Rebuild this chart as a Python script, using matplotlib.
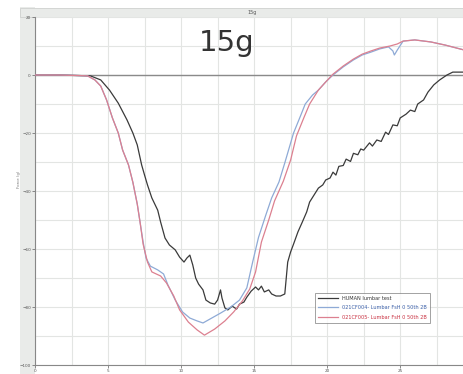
#!/usr/bin/env python3
import numpy as np
import matplotlib
matplotlib.use('Agg')
import matplotlib.pyplot as plt
from matplotlib.patches import Rectangle

# values (x in s, y in g)
human_x = [0, 1.7, 3.1, 3.8, 4.5, 5.1, 5.7, 6.3, 6.7, 7.0, 7.3, 7.5, 7.7, 8.0, 8.4, 8.6,
           8.9, 9.2, 9.6, 9.9, 10.2, 10.4, 10.6, 10.8, 11.0, 11.2, 11.5, 11.7, 12.0, 12.3,
           12.5, 12.7, 12.8, 13.0, 13.2, 13.5, 13.8, 14.0, 14.3, 14.5, 14.8, 15.1, 15.3,
           15.5, 15.7, 16.0, 16.2, 16.5, 16.8, 17.1, 17.2, 17.3, 17.5, 17.7, 18.0, 18.3,
           18.6, 18.8, 19.1, 19.4, 19.7, 19.9, 20.2, 20.4, 20.6, 20.8, 21.1, 21.3, 21.6,
           21.8, 22.1, 22.3, 22.5, 22.9, 23.1, 23.4, 23.7, 24.0, 24.2, 24.5, 24.8, 25.0,
           25.4, 25.7, 26.0, 26.2, 26.6, 26.9, 27.3, 27.7, 28.2, 28.6, 29.4]
human_y = [0, 0, -0.2, -0.3, -1.7, -5.2, -9.7, -15.5, -20.0, -24.1, -31.0, -34.5, -37.9,
           -42.4, -46.6, -50.7, -56.2, -58.6, -60.3, -62.8, -64.5, -63.1, -62.1, -65.5,
           -70.0, -72.1, -74.1, -77.6, -78.6, -79.0, -77.6, -74.1, -76.9, -80.3, -81.0,
           -79.7, -80.7, -79.0, -78.3, -76.6, -74.5, -73.1, -74.1, -72.8, -74.8, -74.1,
           -75.5, -76.2, -76.2, -75.5, -70.0, -64.5, -61.0, -58.3, -54.1, -50.7, -47.2,
           -43.8, -41.4, -39.0, -37.9, -36.2, -35.5, -33.5, -34.5, -31.5, -31.2, -29.0,
           -29.8, -27.0, -27.5, -25.5, -25.9, -23.4, -24.5, -22.4, -22.9, -19.7, -20.5,
           -17.2, -17.5, -14.8, -13.5, -12.1, -12.6, -10.0, -8.6, -5.9, -3.4, -1.7, 0, 1.0, 1.0]

f004_x = [0, 1.7, 3.1, 3.6, 4.1, 4.5, 4.9, 5.3, 5.7, 6.0, 6.4, 6.7, 7.0, 7.2, 7.4, 7.6,
          7.9, 8.4, 8.8, 9.1, 9.6, 10.1, 10.6, 11.1, 11.5, 12.1, 12.7, 13.4, 14.0, 14.5,
          14.9, 15.3, 15.8, 16.2, 16.7, 17.1, 17.7, 18.2, 18.5, 19.0, 19.4, 19.9, 20.4,
          21.1, 21.8, 22.4, 23.0, 23.6, 24.2, 24.5, 24.6, 24.8, 25.2, 26.0, 27.1, 28.1, 29.4]
f004_y = [0, 0, -0.2, -0.3, -1.7, -3.8, -8.6, -14.8, -20.0, -25.9, -31.0, -37.0, -44.5,
          -51.0, -57.5, -63.1, -65.9, -67.2, -68.6, -72.4, -77.6, -81.7, -83.8, -84.8,
          -85.5, -83.8, -82.1, -80.0, -77.6, -73.4, -64.5, -56.0, -48.3, -42.4, -36.9,
          -30.3, -20.0, -13.8, -10.0, -6.9, -5.2, -2.4, 0, 2.8, 5.2, 6.9, 7.9, 9.0, 9.7,
          8.3, 6.9, 8.6, 11.7, 12.1, 11.4, 10.3, 8.6]

f005_x = [0, 1.7, 3.1, 3.6, 4.1, 4.5, 4.9, 5.3, 5.7, 6.0, 6.4, 6.7, 7.0, 7.2, 7.4, 7.7,
          8.0, 8.6, 9.0, 9.5, 9.9, 10.5, 11.1, 11.6, 12.3, 13.0, 13.6, 14.2, 14.7, 15.1,
          15.5, 16.0, 16.4, 17.0, 17.5, 17.9, 18.4, 18.8, 19.4, 19.9, 20.4, 21.1, 21.8,
          22.4, 23.0, 23.6, 24.3, 24.8, 25.2, 26.0, 27.1, 28.1, 29.4]
f005_y = [0, 0, -0.2, -0.3, -1.7, -3.8, -8.6, -14.8, -20.0, -25.9, -31.0, -37.0, -44.5,
          -51.0, -58.3, -64.5, -67.9, -69.3, -71.7, -76.2, -81.0, -85.2, -87.9, -89.7,
          -87.6, -84.8, -81.7, -77.9, -73.8, -67.9, -57.6, -50.0, -43.4, -36.6, -29.3,
          -21.0, -14.8, -10.0, -5.2, -2.4, 0.3, 3.1, 5.5, 7.2, 8.3, 9.3, 10.0, 10.7, 11.7,
          12.1, 11.4, 10.3, 8.6]

labels = ['HUMAN lumbar test',
          '021CF004- Lumbar FsH 0 50th 2B',
          '021CF005- Lumbar FsH 0 50th 2B']
x_ticks = [0, 5, 10, 15, 20, 25]
y_ticks = [-100, -80, -60, -40, -20, 0, 20]


def main():
    fig = plt.figure(figsize=(4.63, 3.74), dpi=100)
    fig.patch.set_facecolor('white')

    # grey window bands (left strip and title strip)
    fig.patches.append(Rectangle((0.043, 0.0), 0.033, 0.98, transform=fig.transFigure,
                                 facecolor='#e9ebe9', edgecolor='none', zorder=-5))
    fig.patches.append(Rectangle((0.043, 0.954), 0.957, 0.025, transform=fig.transFigure,
                                 facecolor='#e9ebe9', edgecolor='#cfd1cf', lw=0.6, zorder=-5))
    fig.text(0.545, 0.966, '15g', fontsize=3.5, color='#555555', ha='center', va='center')

    ax = fig.add_axes([0.0756, 0.024, 0.9244, 0.9305])
    ax.set_zorder(1)
    ax.set_xlim(0, 29.3)
    ax.set_ylim(-100, 20)

    ax.set_xticks(x_ticks)
    ax.set_xticks(np.arange(0, 30, 2.5), minor=True)
    ax.set_yticks(y_ticks)
    ax.set_yticks(np.arange(-100, 21, 10), minor=True)
    ax.grid(True, which='both', color='#e3e5e3', lw=0.8)
    ax.set_axisbelow(True)
    ax.tick_params(labelsize=3, labelcolor='#555555', length=2, width=0.6, colors='#777777', pad=1)
    ax.tick_params(which='minor', length=0)

    for side in ['top', 'right']:
        ax.spines[side].set_visible(False)
    ax.spines['left'].set_color('#888888')
    ax.spines['bottom'].set_color('#888888')

    ax.axhline(0, color='#8a8a8a', lw=1.0, zorder=1)

    ax.plot(human_x, human_y, color='#3a3a3a', lw=0.9, label=labels[0], zorder=3)
    ax.plot(f004_x, f004_y, color='#8eaad6', lw=0.9, label=labels[1], zorder=4)
    ax.plot(f005_x, f005_y, color='#dc8090', lw=0.9, label=labels[2], zorder=4)

    ax.text(13.1, 11, '15g', fontsize=21, color='#333333', ha='center', va='center')
    fig.text(0.04, 0.52, 'Force (g)', fontsize=2.8, color='#777777', rotation=90,
             ha='center', va='center')

    leg = ax.legend(loc='upper left', bbox_to_anchor=(0.648, 0.215), fontsize=3.6,
                    frameon=True, fancybox=False, borderpad=0.6, handlelength=4,
                    labelspacing=0.9)
    leg.get_frame().set_edgecolor('#777777')
    leg.get_frame().set_linewidth(0.6)
    for txt, c in zip(leg.get_texts(), ['#333333', '#3a5fa8', '#c83040']):
        txt.set_color(c)

    plt.savefig('out.png', dpi=100)
    plt.close()


if __name__ == "__main__":
    main()
